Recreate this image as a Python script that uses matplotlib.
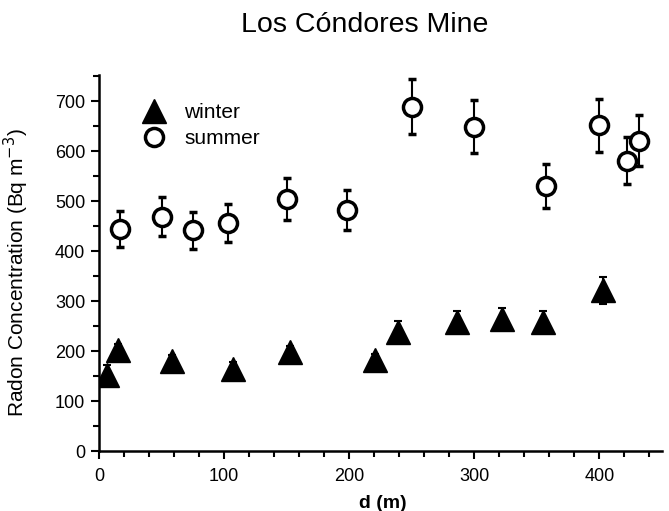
import numpy as np
import matplotlib.pyplot as plt
from matplotlib.ticker import MultipleLocator

plt.rcParams['font.family'] = ['Liberation Sans', 'DejaVu Sans']

# Winter data
winter_d = [6, 15, 58, 107, 153, 221, 239, 286, 322, 355, 403]
winter_rn = [152, 202, 180, 165, 198, 182, 239, 259, 265, 259, 322]
winter_err = [20, 12, 13, 14, 13, 12, 22, 22, 22, 22, 27]

# Summer data
summer_d = [17, 50, 75, 103, 150, 198, 250, 300, 357, 400, 422, 432]
summer_rn = [445, 469, 442, 457, 504, 482, 689, 649, 530, 652, 581, 621]
summer_err = [36, 39, 37, 38, 42, 40, 55, 53, 44, 53, 47, 51]

fig = plt.figure(figsize=(6.69, 5.11), dpi=100)
ax = fig.add_axes([0.148, 0.1174, 0.8415, 0.7356])

ax.errorbar(winter_d, winter_rn, yerr=winter_err, fmt='^', color='black',
            markersize=17, ecolor='black', elinewidth=1.5, capsize=3,
            capthick=1.5, label='winter', zorder=3)
ax.errorbar(summer_d, summer_rn, yerr=summer_err, fmt='o', color='black',
            markerfacecolor='white', markeredgewidth=2.5, markersize=13,
            ecolor='black', elinewidth=1.5, capsize=3, capthick=1.5,
            label='summer', zorder=3)

ax.set_xlim(0, 450)
ax.set_ylim(0, 752)
ax.xaxis.set_major_locator(MultipleLocator(100))
ax.xaxis.set_minor_locator(MultipleLocator(20))
ax.yaxis.set_major_locator(MultipleLocator(100))
ax.yaxis.set_minor_locator(MultipleLocator(50))
ax.tick_params(which='both', direction='out', width=1.5, labelsize=13)
ax.tick_params(which='major', length=6)
ax.tick_params(which='minor', length=4)
ax.tick_params(axis='x', pad=6)
ax.tick_params(axis='y', pad=4)

for side in ['top', 'right']:
    ax.spines[side].set_visible(False)
for side in ['left', 'bottom']:
    ax.spines[side].set_linewidth(1.8)

ax.set_xlabel('d (m)', fontsize=14, fontweight='bold')
ax.xaxis.set_label_coords(0.504, -0.117)
ax.set_ylabel('Radon Concentration (Bq m$^{-3}$)', fontsize=15)
ax.yaxis.set_label_coords(-0.121, 0.475)
fig.text(0.545, 0.937, 'Los Cóndores Mine', fontsize=20.5, ha='center',
         va='baseline')

# legend with markers only, no error bars
h1 = plt.Line2D([], [], marker='^', color='black', linestyle='none', markersize=17)
h2 = plt.Line2D([], [], marker='o', color='black', markerfacecolor='white',
                markeredgewidth=2.5, markersize=13, linestyle='none')
ax.legend([h1, h2], ['winter', 'summer'], loc='upper left',
          bbox_to_anchor=(0.046, 0.976), frameon=False, fontsize=15,
          handlelength=1.0, handletextpad=0.94, labelspacing=0.35)

plt.savefig('out.png', dpi=100)
